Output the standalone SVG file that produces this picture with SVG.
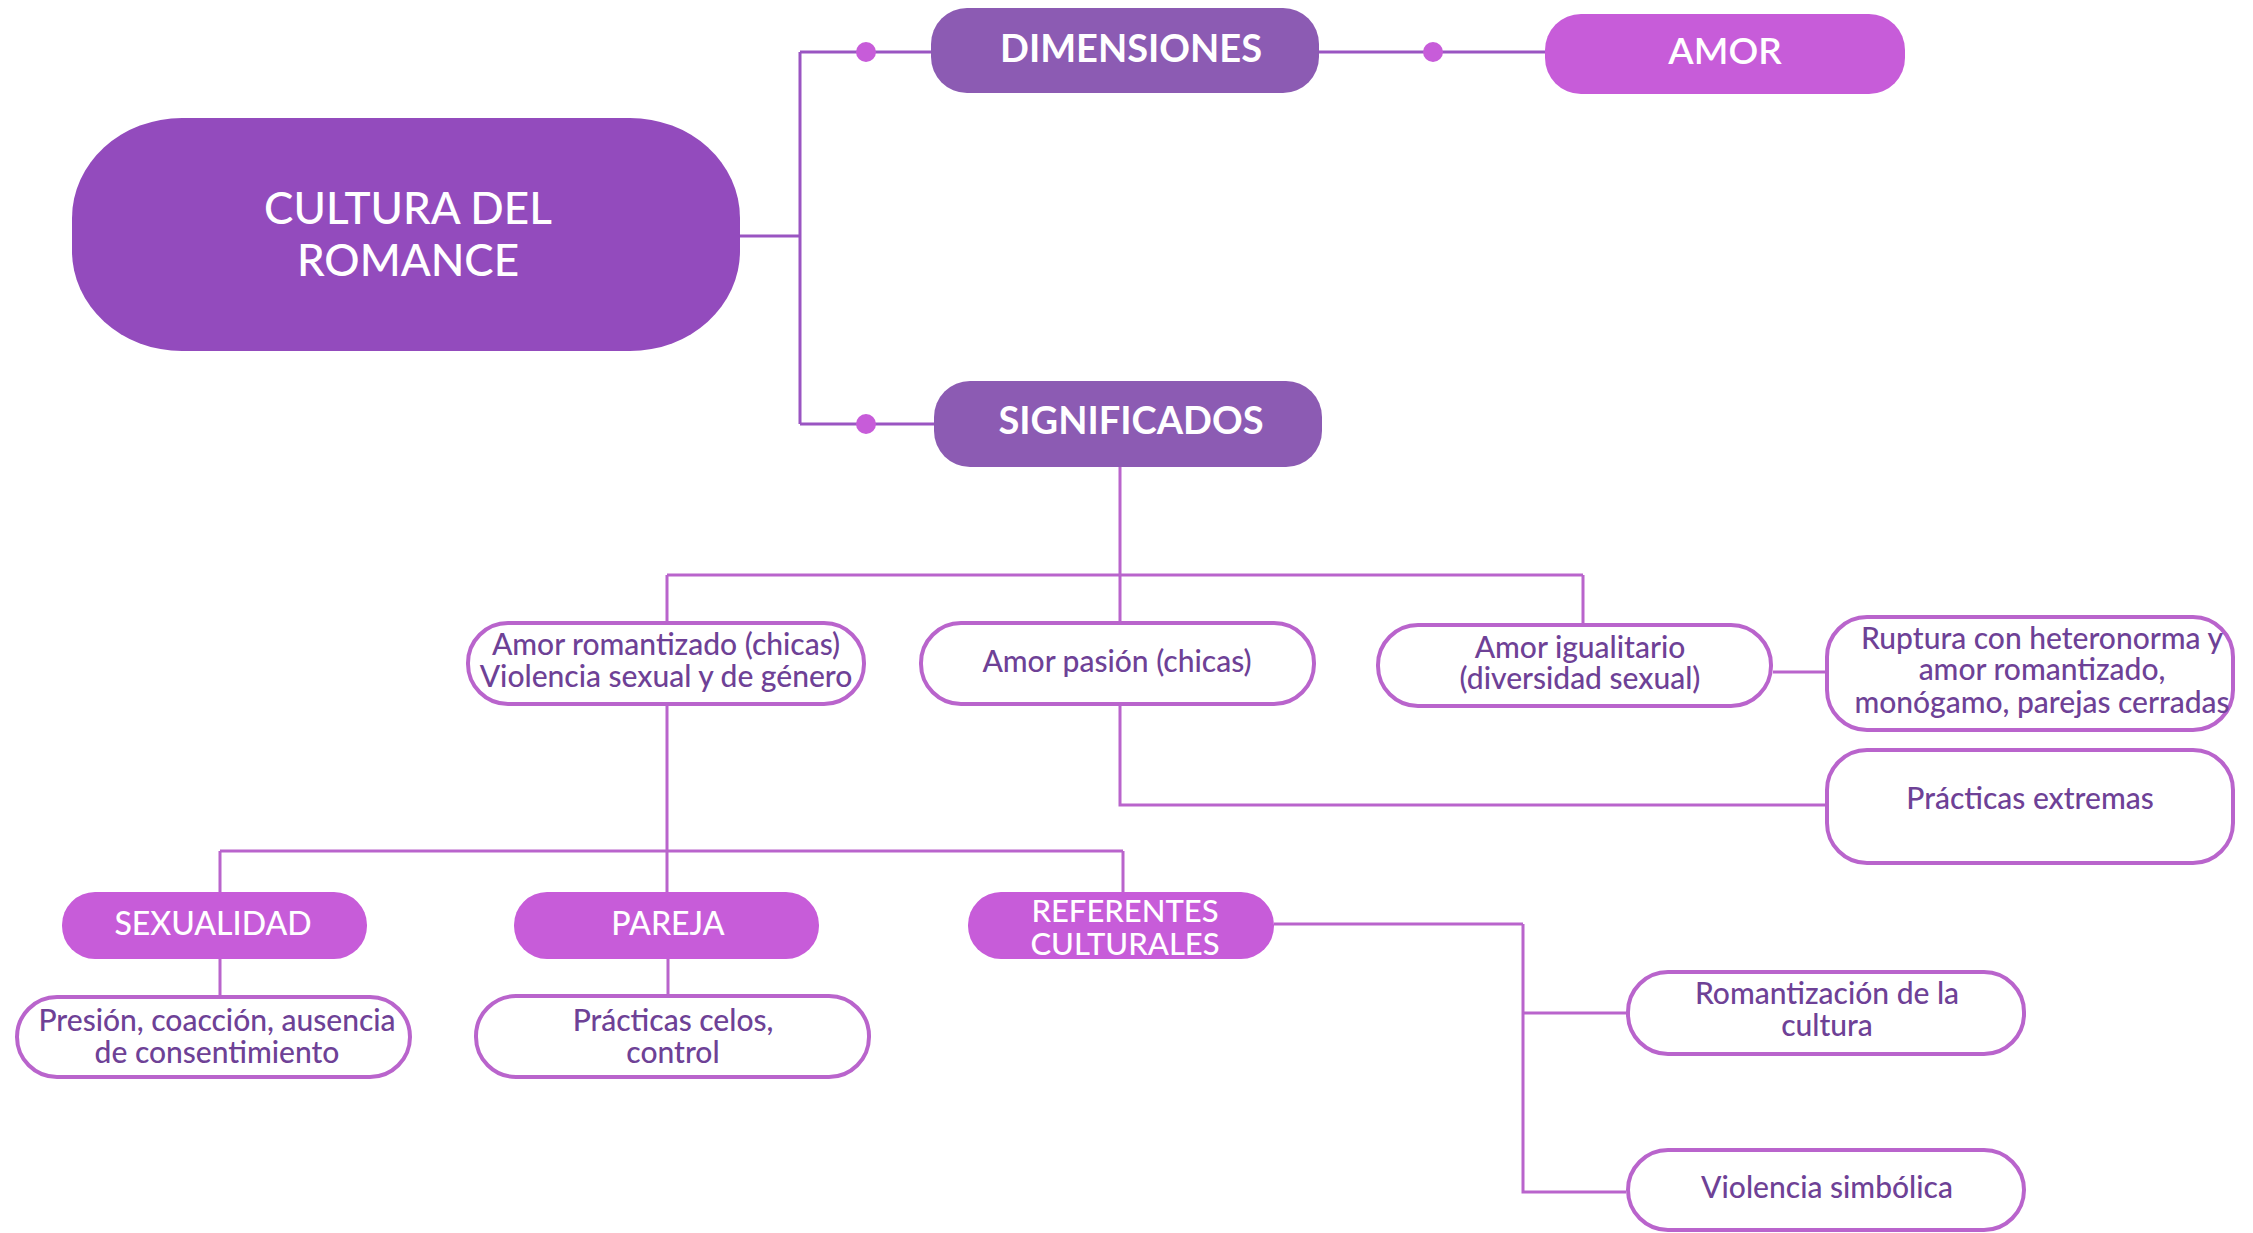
<svg xmlns="http://www.w3.org/2000/svg" width="2253" height="1233" viewBox="0 0 2253 1233">
<style>
.bg{fill:#ffffff}
.main{fill:#934BBD}
.dim{fill:#8C5BB3}
.pink{fill:#C75CD9}
.out{fill:#ffffff;stroke:#B964CC;stroke-width:4}
.lt{fill:#ffffff;font-family:Lato,"Liberation Sans",sans-serif;text-anchor:middle}
.bt{fill:#6E4196;font-family:Lato,"Liberation Sans",sans-serif;font-size:30px;font-weight:500;text-anchor:middle}
.c1{fill:none;stroke:#9A55C2;stroke-width:3}
.c2{fill:none;stroke:#B964CC;stroke-width:3}
.dot{fill:#C75CD9}
</style>
<rect class="bg" x="0" y="0" width="2253" height="1233"/>
<g id="connectors">
<path class="c1" d="M740 236H800M800 52V424M800 52H931M800 424H934M1319 52H1545"/>
<circle class="dot" cx="866" cy="52" r="10"/>
<circle class="dot" cx="1433" cy="52" r="10"/>
<circle class="dot" cx="866" cy="424" r="10"/>
<path class="c2" d="M1120 467V621M667 575H1583M667 575V621M1583 575V623M667 706V892M220 851H1123M220 851V892M1123 851V892M220 959V995M668 959V994M1120 706V805H1825M1773 672H1825M1274 924H1523M1523 924V1192H1626M1523 1013H1626"/>
</g>
<g id="cultura">
<rect class="main" x="72" y="118" width="668" height="233" rx="110" ry="100"/>
<text class="lt" x="408" y="224" font-size="44" font-weight="500">CULTURA DEL</text>
<text class="lt" x="408" y="276" font-size="44" font-weight="500">ROMANCE</text>
</g>
<g id="dimensiones">
<rect class="dim" x="931" y="8" width="388" height="85" rx="36"/>
<text class="lt" x="1131" y="62" font-size="38" font-weight="700">DIMENSIONES</text>
</g>
<g id="amor">
<rect class="pink" x="1545" y="14" width="360" height="80" rx="36"/>
<text class="lt" x="1725" y="64" font-size="37" font-weight="600">AMOR</text>
</g>
<g id="significados">
<rect class="dim" x="934" y="381" width="388" height="86" rx="36"/>
<text class="lt" x="1131" y="434" font-size="38" font-weight="700">SIGNIFICADOS</text>
</g>
<g id="romantizado">
<rect class="out" x="468" y="623" width="396" height="81" rx="40"/>
<text class="bt" x="666" y="655">Amor romantizado (chicas)</text>
<text class="bt" x="666" y="687">Violencia sexual y de género</text>
</g>
<g id="pasion">
<rect class="out" x="921" y="623" width="393" height="81" rx="40"/>
<text class="bt" x="1117" y="672">Amor pasión (chicas)</text>
</g>
<g id="igualitario">
<rect class="out" x="1378" y="625" width="393" height="81" rx="40"/>
<text class="bt" x="1580" y="658">Amor igualitario</text>
<text class="bt" x="1580" y="689">(diversidad sexual)</text>
</g>
<g id="ruptura">
<rect class="out" x="1827" y="617" width="406" height="113" rx="40"/>
<text class="bt" x="2042" y="649">Ruptura con heteronorma y</text>
<text class="bt" x="2042" y="680">amor romantizado,</text>
<text class="bt" x="2042" y="713">monógamo, parejas cerradas</text>
</g>
<g id="extremas">
<rect class="out" x="1827" y="750" width="406" height="113" rx="40"/>
<text class="bt" x="2030" y="809">Prácticas extremas</text>
</g>
<g id="sexualidad">
<rect class="pink" x="62" y="892" width="305" height="67" rx="33"/>
<text class="lt" x="213" y="935" font-size="32" font-weight="500">SEXUALIDAD</text>
</g>
<g id="pareja">
<rect class="pink" x="514" y="892" width="305" height="67" rx="33"/>
<text class="lt" x="668" y="935" font-size="32" font-weight="500">PAREJA</text>
</g>
<g id="referentes">
<rect class="pink" x="968" y="892" width="306" height="67" rx="33"/>
<text class="lt" x="1125" y="922" font-size="31" font-weight="500">REFERENTES</text>
<text class="lt" x="1125" y="955" font-size="31" font-weight="500">CULTURALES</text>
</g>
<g id="presion">
<rect class="out" x="17" y="997" width="393" height="80" rx="40"/>
<text class="bt" x="217" y="1031">Presión, coacción, ausencia</text>
<text class="bt" x="217" y="1063">de consentimiento</text>
</g>
<g id="celos">
<rect class="out" x="476" y="996" width="393" height="81" rx="40"/>
<text class="bt" x="673" y="1031">Prácticas celos,</text>
<text class="bt" x="673" y="1063">control</text>
</g>
<g id="romantizacion">
<rect class="out" x="1628" y="972" width="396" height="82" rx="40"/>
<text class="bt" x="1827" y="1004">Romantización de la</text>
<text class="bt" x="1827" y="1036">cultura</text>
</g>
<g id="violencia">
<rect class="out" x="1628" y="1150" width="396" height="80" rx="40"/>
<text class="bt" x="1827" y="1198">Violencia simbólica</text>
</g>
</svg>
